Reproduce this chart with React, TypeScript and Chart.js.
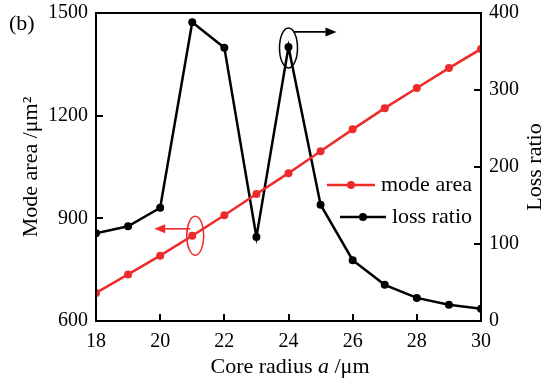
import React, { useEffect, useRef } from 'react';
import { Chart, registerables } from 'chart.js';
Chart.register(...registerables);

const radius = [18, 19, 20, 21, 22, 23, 24, 25, 26, 27, 28, 29, 30];
const modeArea = [682, 736, 791, 849, 909, 971, 1032, 1096, 1160, 1222, 1281, 1339, 1395];
const lossRatio = [114, 123, 147, 388, 355, 109, 356, 151, 79, 47, 30, 21, 16];
const xTickValues = [18, 20, 22, 24, 26, 28, 30];
const leftTickValues = [600, 900, 1200, 1500];
const rightTickValues = [0, 100, 200, 300, 400];
const seriesNames = ['mode area', 'loss ratio'];
const axisTitles = { x: ['Core radius ', 'a', ' /μm'], left: 'Mode area /μm²', right: 'Loss ratio' };
const panelLabel = '(b)';

const RED = '#ee2a2a';
const BLACK = '#000000';
const FONT = "'Liberation Serif', 'Times New Roman', serif";
const TICK_FS = 20;
const TEXT_FS = 22;

function arrow(ctx: CanvasRenderingContext2D, x1: number, y1: number, x2: number, y2: number, color: string) {
  const ang = Math.atan2(y2 - y1, x2 - x1);
  const hl = 11, hw = 4.5;
  ctx.strokeStyle = color;
  ctx.fillStyle = color;
  ctx.lineWidth = 1.6;
  ctx.beginPath();
  ctx.moveTo(x1, y1);
  ctx.lineTo(x2 - Math.cos(ang) * hl * 0.8, y2 - Math.sin(ang) * hl * 0.8);
  ctx.stroke();
  ctx.beginPath();
  ctx.moveTo(x2, y2);
  ctx.lineTo(x2 - Math.cos(ang) * hl - Math.sin(ang) * hw, y2 - Math.sin(ang) * hl + Math.cos(ang) * hw);
  ctx.lineTo(x2 - Math.cos(ang) * hl + Math.sin(ang) * hw, y2 - Math.sin(ang) * hl - Math.cos(ang) * hw);
  ctx.closePath();
  ctx.fill();
}

const overlay = {
  id: 'overlay',
  afterDraw(chart: any) {
    const ctx: CanvasRenderingContext2D = chart.ctx;
    const { left, right, top, bottom } = chart.chartArea;
    const xs = chart.scales.x, yl = chart.scales.y, yr = chart.scales.y1;
    ctx.save();
    // frame
    ctx.strokeStyle = BLACK;
    ctx.lineWidth = 2;
    ctx.strokeRect(left, top, right - left, bottom - top);
    // inward ticks
    ctx.beginPath();
    xTickValues.forEach((v) => {
      const p = Math.round(xs.getPixelForValue(v));
      ctx.moveTo(p, bottom);
      ctx.lineTo(p, bottom - 7);
    });
    leftTickValues.forEach((v) => {
      const p = Math.round(yl.getPixelForValue(v));
      ctx.moveTo(left, p);
      ctx.lineTo(left + 7, p);
    });
    rightTickValues.forEach((v) => {
      const p = Math.round(yr.getPixelForValue(v));
      ctx.moveTo(right, p);
      ctx.lineTo(right - 7, p);
    });
    ctx.stroke();

    // axis titles
    ctx.fillStyle = BLACK;
    const normal = `${TEXT_FS}px ${FONT}`;
    const italic = `italic ${TEXT_FS}px ${FONT}`;
    const [t1, t2, t3] = axisTitles.x;
    ctx.font = normal;
    const w1 = ctx.measureText(t1).width;
    const w3 = ctx.measureText(t3).width;
    ctx.font = italic;
    const w2 = ctx.measureText(t2).width;
    const total = w1 + w2 + w3;
    const tx = 290 - total / 2;
    const ty = 373;
    ctx.textBaseline = 'alphabetic';
    ctx.textAlign = 'left';
    ctx.font = normal;
    ctx.fillText(t1, tx, ty);
    ctx.font = italic;
    ctx.fillText(t2, tx + w1, ty);
    ctx.font = normal;
    ctx.fillText(t3, tx + w1 + w2, ty);

    ctx.textBaseline = 'middle';
    const midY = (top + bottom) / 2;
    ctx.textAlign = 'center';
    ctx.save();
    ctx.translate(31, midY);
    ctx.rotate(-Math.PI / 2);
    ctx.fillText(axisTitles.left, 0, 0);
    ctx.restore();
    ctx.save();
    ctx.translate(535, midY);
    ctx.rotate(-Math.PI / 2);
    ctx.fillText(axisTitles.right, 0, 0);
    ctx.restore();

    // panel label
    ctx.textAlign = 'left';
    ctx.fillText(panelLabel, 9, 24);

    // legend
    const legendRight = 472;
    const items = [
      { name: seriesNames[0], color: RED, y: 185, lineLen: 48 },
      { name: seriesNames[1], color: BLACK, y: 217, lineLen: 46 },
    ];
    items.forEach((it) => {
      ctx.font = normal;
      const w = ctx.measureText(it.name).width;
      const textStart = legendRight - w;
      const lineEnd = textStart - 6;
      const lineStart = lineEnd - it.lineLen;
      ctx.strokeStyle = it.color;
      ctx.fillStyle = it.color;
      ctx.lineWidth = 2.5;
      ctx.beginPath();
      ctx.moveTo(lineStart, it.y);
      ctx.lineTo(lineEnd, it.y);
      ctx.stroke();
      ctx.beginPath();
      ctx.arc((lineStart + lineEnd) / 2, it.y, 4, 0, Math.PI * 2);
      ctx.fill();
      ctx.fillStyle = BLACK;
      ctx.textAlign = 'left';
      ctx.fillText(it.name, textStart, it.y);
    });

    // annotation: black ellipse around loss-ratio point at 24, arrow to right
    const bi = radius.indexOf(24);
    const bx = xs.getPixelForValue(radius[bi]);
    const by = yr.getPixelForValue(lossRatio[bi]);
    ctx.strokeStyle = BLACK;
    ctx.lineWidth = 1.5;
    ctx.beginPath();
    ctx.ellipse(bx, by + 1, 9, 20, 0, 0, Math.PI * 2);
    ctx.stroke();
    arrow(ctx, bx + 5, by - 15, bx + 48, by - 15, BLACK);

    // annotation: red ellipse around mode-area point at 21, arrow to left
    const ri = radius.indexOf(21);
    const rx = xs.getPixelForValue(radius[ri]);
    const ry = yl.getPixelForValue(modeArea[ri]);
    ctx.strokeStyle = RED;
    ctx.lineWidth = 1.5;
    ctx.beginPath();
    ctx.ellipse(rx + 3, ry, 8.5, 19.5, 0, 0, Math.PI * 2);
    ctx.stroke();
    arrow(ctx, rx - 2, ry - 7, rx - 38, ry - 7, RED);

    ctx.restore();
  },
};

export default function App() {
  const ref = useRef<HTMLCanvasElement>(null);
  useEffect(() => {
    const canvas = ref.current;
    if (!canvas) return;
    const tickFont = { family: FONT, size: TICK_FS };
    const plain = (v: any) => String(v);
    const fitV = (w: number) => (s: any) => { s.width = w; s.paddingTop = 0; s.paddingBottom = 0; };
    const chart = new Chart(canvas, {
      type: 'line',
      data: {
        datasets: [
          {
            label: seriesNames[0],
            data: radius.map((r, i) => ({ x: r, y: modeArea[i] })),
            borderColor: RED,
            backgroundColor: RED,
            borderWidth: 2.5,
            pointRadius: 4,
            pointBorderWidth: 0,
            pointBackgroundColor: RED,
            yAxisID: 'y',
            tension: 0,
          },
          {
            label: seriesNames[1],
            data: radius.map((r, i) => ({ x: r, y: lossRatio[i] })),
            borderColor: BLACK,
            backgroundColor: BLACK,
            borderWidth: 2.5,
            pointRadius: 4,
            pointBorderWidth: 0,
            pointBackgroundColor: BLACK,
            yAxisID: 'y1',
            tension: 0,
          },
        ],
      },
      options: {
        responsive: false,
        animation: false,
        layout: { padding: { top: 13, left: 0, right: 0, bottom: 0 } },
        plugins: { legend: { display: false }, tooltip: { enabled: false } },
        scales: {
          x: {
            type: 'linear',
            position: 'bottom',
            min: 18,
            max: 30,
            afterBuildTicks: (s: any) => { s.ticks = xTickValues.map((v) => ({ value: v })); },
            ticks: { font: tickFont, color: BLACK, padding: 9, maxRotation: 0, autoSkip: false, callback: plain },
            grid: { display: false, drawTicks: false },
            border: { display: false },
            afterFit: (s: any) => { s.height = 57; s.paddingLeft = 0; s.paddingRight = 0; },
          },
          y: {
            type: 'linear',
            position: 'left',
            min: 600,
            max: 1500,
            afterBuildTicks: (s: any) => { s.ticks = leftTickValues.map((v) => ({ value: v })); },
            ticks: { font: tickFont, color: BLACK, padding: 8, autoSkip: false, callback: plain },
            grid: { display: false, drawTicks: false },
            border: { display: false },
            afterFit: fitV(96),
          },
          y1: {
            type: 'linear',
            position: 'right',
            min: 0,
            max: 400,
            afterBuildTicks: (s: any) => { s.ticks = rightTickValues.map((v) => ({ value: v })); },
            ticks: { font: tickFont, color: BLACK, padding: 8, autoSkip: false, callback: plain },
            grid: { display: false, drawTicks: false },
            border: { display: false },
            afterFit: fitV(70),
          },
        },
      },
      plugins: [overlay],
    });
    return () => chart.destroy();
  }, []);
  return (
    <div style={{ position: 'fixed', left: 0, top: 0, width: 551, height: 378, background: '#fff' }}>
      <canvas ref={ref} width={551} height={378} style={{ display: 'block' }} />
    </div>
  );
}
